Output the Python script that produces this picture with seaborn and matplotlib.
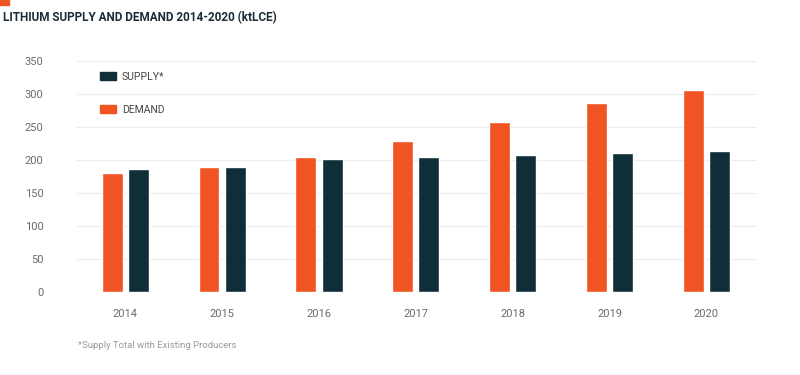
import pandas as pd
import matplotlib.pyplot as plt
import matplotlib.patches as mpatches
import seaborn as sns

# data (ktLCE)
years = ['2014', '2015', '2016', '2017', '2018', '2019', '2020']
demand = [180, 189, 205, 229, 258, 286, 306]
supply = [186, 189, 201, 205, 208, 211, 214]

orange = '#F05423'
navy = '#102E38'

df = pd.DataFrame({
    'Year': years * 2,
    'Value': demand + supply,
    'Series': ['DEMAND'] * len(years) + ['SUPPLY*'] * len(years),
})

sns.set_style('white')
plt.rcParams['font.family'] = ['Roboto', 'DejaVu Sans']

fig = plt.figure(figsize=(8, 3.75), dpi=100)
ax = fig.add_axes([0.096, 0.221, 0.85, 0.616])

sns.barplot(data=df, x='Year', y='Value', hue='Series',
            hue_order=['DEMAND', 'SUPPLY*'],
            palette={'DEMAND': orange, 'SUPPLY*': navy},
            width=0.54, gap=0.2, saturation=1, legend=False, ax=ax)

ax.set_ylim(0, 350)
ax.set_xlim(-0.5, 6.52)
ax.set_yticks(range(0, 351, 50))
ax.yaxis.grid(True, color='#ececec', linewidth=0.8)
ax.set_axisbelow(True)
sns.despine(ax=ax, left=True, bottom=True)
ax.set_xlabel('')
ax.set_ylabel('')
ax.tick_params(axis='both', length=0, labelsize=8, labelcolor='#6b6b6b')
ax.tick_params(axis='y', pad=24)
ax.tick_params(axis='x', pad=12)

handles = [mpatches.Patch(color=navy, label='SUPPLY*'),
           mpatches.Patch(color=orange, label='DEMAND')]
leg = ax.legend(handles=handles, loc='upper left', bbox_to_anchor=(0.02, 0.995),
                frameon=False, fontsize=7.5, handlelength=1.6, handleheight=0.8,
                labelspacing=2.2, handletextpad=0.5)
for t in leg.get_texts():
    t.set_color('#444444')

fig.patches.append(mpatches.Rectangle((0, 0.988), 0.011, 0.012, color=orange,
                                      transform=fig.transFigure, figure=fig))
fig.text(0.004, 0.952, 'LITHIUM SUPPLY AND DEMAND 2014-2020 (ktLCE)', fontsize=8.5,
         fontweight='bold', color='#1c2c36', va='center', ha='left')
fig.text(0.097, 0.08, '*Supply Total with Existing Producers', fontsize=6.8,
         color='#9a9a9a', va='center', ha='left')

fig.savefig('out.png', dpi=100)
